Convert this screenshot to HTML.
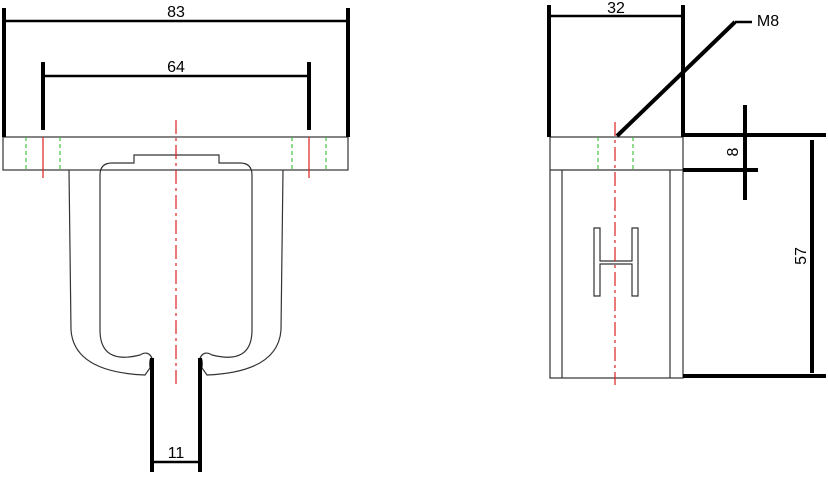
<!DOCTYPE html>
<html><head><style>body{margin:0;background:#fff}svg{display:block}</style></head><body>
<svg width="828" height="480" viewBox="0 0 828 480" font-family="Liberation Sans, sans-serif">
<rect width="828" height="480" fill="#fff"/>
<g fill="none" stroke="#333" stroke-width="1.2">
<rect x="3" y="137" width="345" height="33"/>
<path d="M69,170 L71,330 Q74,372 145,375 L150,368 Q149,358 152,358"/>
<path d="M283,170 L281,330 Q278,372 207,375 L202,368 Q203,358 200,358"/>
<path d="M152,358 Q148,350 140,355 Q100,365 100,330 L100,175 Q100,163 112,163 L134,163 L134,155 L219,155 L219,163 L240,163 Q252,163 252,175 L252,330 Q252,365 212,355 Q204,350 200,358"/>
<rect x="550" y="137" width="133" height="241"/>
<line x1="550" y1="170" x2="683" y2="170"/>
<line x1="562" y1="170" x2="562" y2="378"/>
<line x1="670" y1="170" x2="670" y2="378"/>
<path d="M594,228 h6 v33 h32 v-33 h6 v68 h-6 v-32 h-32 v32 h-6 z"/>
</g>
<g stroke="#d22" stroke-width="1.2" stroke-dasharray="14,4,3,4" fill="none">
<line x1="176" y1="120" x2="176" y2="385"/>
<line x1="615" y1="122" x2="615" y2="385"/>
</g>
<g stroke="#d22" stroke-width="1.2"><line x1="43" y1="137" x2="43" y2="178"/><line x1="309" y1="137" x2="309" y2="178"/></g>
<g stroke="#2b2" stroke-width="1" stroke-dasharray="4,3">
<line x1="26" y1="137" x2="26" y2="170"/><line x1="60" y1="137" x2="60" y2="170"/>
<line x1="292" y1="137" x2="292" y2="170"/><line x1="326" y1="137" x2="326" y2="170"/>
<line x1="598" y1="137" x2="598" y2="170"/><line x1="633" y1="137" x2="633" y2="170"/>
</g>
<g stroke="#000" stroke-width="4" fill="none">
<line x1="4" y1="8" x2="4" y2="137"/><line x1="348" y1="8" x2="348" y2="137"/>
<line x1="43" y1="62" x2="43" y2="130"/><line x1="309" y1="62" x2="309" y2="130"/>
<line x1="152" y1="358" x2="152" y2="472"/><line x1="200" y1="358" x2="200" y2="472"/>
<line x1="549" y1="5" x2="549" y2="137"/><line x1="683" y1="5" x2="683" y2="137"/>
<line x1="683" y1="135" x2="826" y2="135"/><line x1="683" y1="170" x2="758" y2="170"/>
<line x1="683" y1="376" x2="826" y2="376"/>
<line x1="745" y1="105" x2="745" y2="200"/>
<line x1="812" y1="140" x2="812" y2="373"/>
<line x1="617" y1="136" x2="735" y2="22"/>
</g>
<g stroke="#000" stroke-width="2.5">
<line x1="4" y1="21" x2="348" y2="21"/><line x1="43" y1="76" x2="309" y2="76"/>
<line x1="152" y1="462" x2="200" y2="462"/><line x1="549" y1="16" x2="683" y2="16"/>
<line x1="735" y1="22" x2="752" y2="22"/>
</g>
<g font-size="16" fill="#000" text-anchor="middle">
<text x="176" y="17">83</text><text x="176" y="72">64</text><text x="176" y="458">11</text>
<text x="616" y="13">32</text><text x="768" y="26">M8</text>
<text transform="translate(738,152) rotate(-90)">8</text>
<text transform="translate(806,256) rotate(-90)">57</text>
</g>
</svg>
</body></html>
